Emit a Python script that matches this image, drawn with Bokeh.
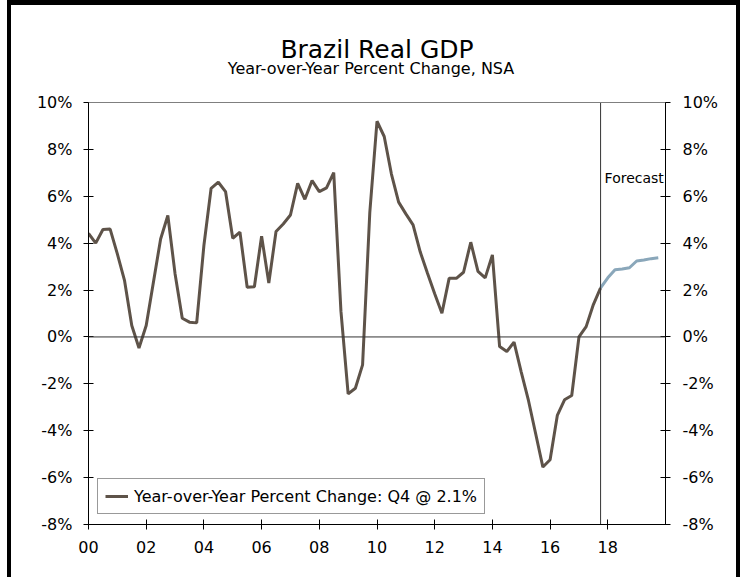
from bokeh.plotting import figure
from bokeh.models import (FixedTicker, PrintfTickFormatter, LinearAxis, Range1d, Span,
                          Label, Legend, LegendItem, ColumnDataSource)
from bokeh.embed import file_html
from bokeh.resources import INLINE

# ---------------- data ----------------
start_year = 2000  # first quarter: 2000 Q1, quarterly data
history = [4.42, 4.0, 4.58, 4.6, 3.54, 2.4, 0.49, -0.47, 0.49, 2.33, 4.18, 5.18,
           2.7, 0.8, 0.63, 0.6, 3.9, 6.34, 6.6, 6.2, 4.21, 4.47, 2.12, 2.14,
           4.3, 2.3, 4.5, 4.82, 5.2, 6.55, 5.87, 6.67, 6.2, 6.36, 7.01, 1.1,
           -2.43, -2.19, -1.19, 5.3, 9.2, 8.55, 6.95, 5.75, 5.25, 4.78, 3.62, 2.72,
           1.84, 1.01, 2.5, 2.5, 2.76, 4.04, 2.8, 2.52, 3.5, -0.41, -0.62, -0.22,
           -1.5, -2.71, -4.13, -5.55, -5.24, -3.35, -2.68, -2.5, 0.0, 0.44, 1.38, 2.09]
forecast = [2.52, 2.87, 2.9, 2.95, 3.24, 3.28, 3.34, 3.38]
x_ticks = [2000, 2002, 2004, 2006, 2008, 2010, 2012, 2014, 2016, 2018]
x_tick_labels = ["00", "02", "04", "06", "08", "10", "12", "14", "16", "18"]
y_ticks = [-8, -6, -4, -2, 0, 2, 4, 6, 8, 10]
title_text = "Brazil Real GDP"
subtitle_text = "Year-over-Year Percent Change, NSA"
legend_text = "Year-over-Year Percent Change: Q4 @ 2.1%"
forecast_text = "Forecast"

hist_x = [start_year + i / 4 for i in range(len(history))]
fc_x = [hist_x[-1]] + [hist_x[-1] + (i + 1) / 4 for i in range(len(forecast))]
fc_y = [history[-1]] + forecast
forecast_start = hist_x[-1]
y_lo, y_hi = y_ticks[0], y_ticks[-1]

FONT = "DejaVu Sans"
HIST_COLOR = "#5e5349"
FC_COLOR = "#8aa7ba"

# plot frame extends upward to hold the titles; axes are bounded to -8..10
px_per_unit = 422 / (y_hi - y_lo)
top_extra = 97 / px_per_unit

p = figure(frame_width=577, frame_height=519,
           min_border_left=77, min_border_right=71, min_border_top=0, min_border_bottom=53,
           x_range=Range1d(2000, 2020), y_range=Range1d(y_lo, y_hi + top_extra),
           output_backend="svg", toolbar_location=None,
           background_fill_color="white", border_fill_color="white")
p.styles = {
    "border-style": "solid",
    "border-color": "transparent",
    "border-width": "5px 4px 0px 11px",
    "background-color": "white",
    "background-image": ("linear-gradient(to right, #ffffff 7px, #000000 7px, #000000 11px, transparent 11px), "
                         "linear-gradient(to bottom, #000000 5px, transparent 5px), "
                         "linear-gradient(to left, #000000 4px, transparent 4px)"),
    "background-origin": "border-box",
    "background-clip": "border-box",
}
p.xgrid.visible = False
p.ygrid.visible = False
p.outline_line_color = None

hist_src = ColumnDataSource(dict(x=hist_x, y=history))
fc_src = ColumnDataSource(dict(x=fc_x, y=fc_y))
r_hist = p.line("x", "y", source=hist_src, line_color=HIST_COLOR, line_width=3)
p.line("x", "y", source=fc_src, line_color=FC_COLOR, line_width=3)

# top frame line (gray), zero line, forecast divider
p.add_layout(Span(location=y_hi, dimension="width", line_color="#7f7f7f", line_width=1))
p.add_layout(Span(location=0, dimension="width", line_color="#333333", line_width=1))
p.segment(x0=[forecast_start], y0=[y_lo], x1=[forecast_start], y1=[y_hi],
          line_color="#333333", line_width=1)

def style_axis(ax):
    ax.axis_line_color = "black"
    ax.axis_line_width = 1
    ax.major_tick_line_color = "black"
    ax.major_tick_in = 5
    ax.major_tick_out = 5
    ax.minor_tick_line_color = None
    ax.major_label_text_font = FONT
    ax.major_label_text_font_size = "16px"
    ax.major_label_text_color = "black"

# x axis
xa = p.xaxis[0]
xa.ticker = FixedTicker(ticks=x_ticks)
xa.major_label_overrides = {t: l for t, l in zip(x_ticks, x_tick_labels)}
style_axis(xa)
xa.major_label_standoff = 11

# left y axis
ya = p.yaxis[0]
ya.ticker = FixedTicker(ticks=y_ticks)
ya.formatter = PrintfTickFormatter(format="%d%%")
ya.bounds = (y_lo, y_hi)
style_axis(ya)
ya.major_label_standoff = 11

# right y axis
yr = LinearAxis(ticker=FixedTicker(ticks=y_ticks), formatter=PrintfTickFormatter(format="%d%%"),
                bounds=(y_lo, y_hi))
style_axis(yr)
yr.major_label_standoff = 12
p.add_layout(yr, "right")

# titles (inside the extended frame)
p.add_layout(Label(x=2010, y=12.25, text=title_text, text_align="center", text_baseline="middle",
                   text_font=FONT, text_font_size="25px", text_color="black"))
p.add_layout(Label(x=2010, y=11.47, x_offset=-6, text=subtitle_text, text_align="center",
                   text_baseline="middle", text_font=FONT, text_font_size="16px", text_color="black"))
p.add_layout(Label(x=forecast_start, y=6.8, x_offset=4, text=forecast_text, text_align="left",
                   text_baseline="middle", text_font=FONT, text_font_size="14px", text_color="black"))

legend = Legend(items=[LegendItem(label=legend_text, renderers=[r_hist])], location=(9, 10),
                label_text_font=FONT, label_text_font_size="16px", label_text_color="black",
                border_line_color="#333333", border_line_width=1, background_fill_color="white",
                background_fill_alpha=1, padding=7, margin=0, glyph_width=23, label_standoff=6,
                spacing=0)
p.add_layout(legend, "center")

open("out.html", "w").write(file_html(p, INLINE))
